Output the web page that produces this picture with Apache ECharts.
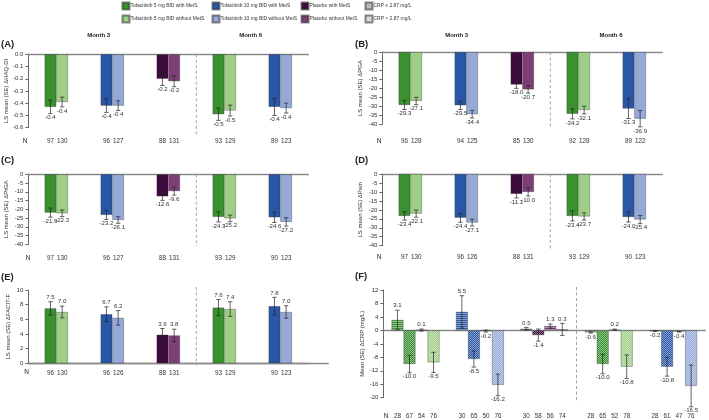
<!DOCTYPE html>
<html><head><meta charset="utf-8">
<script src="https://cdn.jsdelivr.net/npm/echarts@6/dist/echarts.min.js"></script>
<style>html,body{margin:0;padding:0;background:#fff}#c{width:709px;height:420px}</style>
</head><body><div id="c"></div>
<script>
const FONT = "'Liberation Sans', Arial, Helvetica, sans-serif";

// ---- data ----
const categories = ['Tofacitinib 5 mg BID, Month 3', 'Tofacitinib 10 mg BID, Month 3', 'Placebo, Month 3', 'Tofacitinib 5 mg BID, Month 6', 'Tofacitinib 10 mg BID, Month 6'];
const treatments = ['5mg', '10mg', 'pbo', '5mg', '10mg'];
const monthLabels = ['Month 3', 'Month 6'];

// (A) HAQ-DI
const haqWith = [-0.43, -0.42, -0.20, -0.49, -0.43];
const haqWithout = [-0.39, -0.42, -0.22, -0.46, -0.44];
const haqWithSE = [0.055, 0.055, 0.055, 0.05, 0.07];
const haqWithoutSE = [0.04, 0.04, 0.045, 0.045, 0.04];
const haqNWith = [97, 96, 88, 93, 89];
const haqNWithout = [130, 127, 131, 129, 123];
// (B) PGA
const pgaWith = [-29.3, -29.5, -18.0, -34.2, -31.3];
const pgaWithout = [-27.1, -34.4, -20.7, -32.1, -36.9];
const pgaWithSE = [2.5, 2.3, 2.1, 2.8, 5.5];
const pgaWithoutSE = [2.0, 2.1, 2.1, 2.1, 4.5];
const pgaNWith = [96, 94, 85, 92, 89];
const pgaNWithout = [128, 125, 130, 128, 122];
// (C) PtGA
const ptgaWith = [-21.9, -23.2, -12.6, -24.3, -24.6];
const ptgaWithout = [-22.3, -26.1, -9.6, -25.2, -27.2];
const ptgaWithSE = [2.6, 2.6, 2.3, 2.9, 2.9];
const ptgaWithoutSE = [1.9, 1.9, 2.3, 1.9, 2.4];
const ptgaNWith = [97, 96, 88, 93, 90];
const ptgaNWithout = [130, 127, 131, 129, 123];
// (D) Pain
const painWith = [-23.4, -24.4, -11.1, -23.4, -24.0];
const painWithout = [-22.1, -27.1, -10.0, -23.7, -25.4];
const painWithSE = [2.3, 2.5, 2.3, 2.8, 2.8];
const painWithoutSE = [2.0, 1.9, 2.3, 2.0, 2.3];
const painNWith = [97, 96, 88, 93, 90];
const painNWithout = [130, 126, 131, 129, 123];
// (E) FACIT-F
const facitWith = [7.5, 6.7, 3.9, 7.6, 7.8];
const facitWithout = [7.0, 6.2, 3.8, 7.4, 7.0];
const facitWithSE = [0.9, 1.0, 0.85, 1.1, 1.2];
const facitWithoutSE = [0.8, 1.0, 0.85, 1.0, 0.85];
const facitNWith = [96, 96, 88, 93, 90];
const facitNWithout = [130, 126, 131, 129, 123];
// (F) CRP
const crpWithLow = [3.1, 5.5, 0.5, -0.6, -0.2];
const crpWithHigh = [-10.0, -8.5, -1.4, -10.0, -10.8];
const crpWithoutLow = [0.1, -0.2, 1.3, 0.2, -0.4];
const crpWithoutHigh = [-9.5, -16.2, 0.3, -10.8, -16.5];
const crpWithLowSE = [2.9, 4.8, 0.4, 0.2, 0.1];
const crpWithHighSE = [2.6, 2.4, 1.8, 2.9, 2.8];
const crpWithoutLowSE = [0.3, 0.3, 0.6, 0.2, 0.1];
const crpWithoutHighSE = [3.0, 3.2, 1.8, 3.5, 6.2];
const crpNWithLow = [28, 30, 30, 28, 28];
const crpNWithHigh = [67, 65, 58, 65, 61];
const crpNWithoutLow = [54, 50, 56, 52, 47];
const crpNWithoutHigh = [76, 76, 74, 78, 76];

// ---- styling ----
const names = {
  '5mg': { with: 'Tofacitinib 5 mg BID with MetS', without: 'Tofacitinib 5 mg BID without MetS' },
  '10mg': { with: 'Tofacitinib 10 mg BID with MetS', without: 'Tofacitinib 10 mg BID without MetS' },
  'pbo': { with: 'Placebo with MetS', without: 'Placebo without MetS' }
};
const colors = {
  '5mg': { with: '#3a912f', without: '#9fce86' },
  '10mg': { with: '#2a57a5', without: '#95a9d8' },
  'pbo': { with: '#3d0b3e', without: '#7e3f77' }
};
const CRP_LOW = 'CRP \u2264 2.87 mg/L';
const CRP_HIGH = 'CRP > 2.87 mg/L';

function mix(hex, amt) {
  const n = parseInt(hex.slice(1), 16);
  const r = (n >> 16) & 255, g = (n >> 8) & 255, b = n & 255;
  const f = c => Math.round(c + (255 - c) * amt);
  return 'rgb(' + f(r) + ',' + f(g) + ',' + f(b) + ')';
}
function pattern(hex, kind) {
  const cv = document.createElement('canvas');
  cv.width = 2; cv.height = 2;
  const ctx = cv.getContext('2d');
  ctx.fillStyle = hex; ctx.fillRect(0, 0, 2, 2);
  ctx.fillStyle = mix(hex, 0.45);
  if (kind === 'low') { ctx.fillRect(0, 1, 2, 1); }
  else { ctx.fillRect(0, 0, 1, 1); ctx.fillRect(1, 1, 1, 1); }
  return { image: cv, repeat: 'repeat' };
}

const axisTextColor = '#333';
const grids = [], xAxes = [], yAxes = [], series = [];

function addPanel(cfg) {
  const gi = grids.length;
  grids.push({ left: cfg.left, top: cfg.top, width: cfg.width, height: cfg.height, containLabel: false });
  xAxes.push({
    type: 'category', gridIndex: gi, data: categories,
    axisLine: { show: true, onZero: true, lineStyle: { color: '#8a8a8a', width: 1.3 } },
    axisTick: { show: false }, axisLabel: { show: false }, splitLine: { show: false }
  });
  yAxes.push({
    type: 'value', gridIndex: gi, min: cfg.min, max: cfg.max, interval: cfg.interval,
    name: cfg.yName, nameLocation: 'middle', nameGap: cfg.nameGap,
    nameTextStyle: { fontSize: 6, color: axisTextColor, fontFamily: FONT, padding: cfg.namePad || 0 },
    axisLine: { show: true, lineStyle: { color: '#444', width: 0.8 } },
    axisTick: { show: true, length: 3, lineStyle: { color: '#444', width: 0.8 } },
    axisLabel: { fontSize: 6, color: axisTextColor, fontFamily: FONT, margin: 5,
      formatter: v => cfg.decimals ? v.toFixed(cfg.decimals) : String(Math.round(v)) },
    splitLine: { show: false }
  });
  const k = cfg.slots.length;
  const bw = cfg.barWidth;
  cfg.slots.forEach(s => s.bars.forEach(b => {
    series.push({
      type: 'bar', name: b.name, xAxisIndex: gi, yAxisIndex: gi,
      stack: s.stack ? 'g' + gi + s.stack : undefined,
      barWidth: bw, barGap: '0%', barCategoryGap: '0%',
      itemStyle: { color: b.color, borderColor: 'rgba(40,40,40,0.55)', borderWidth: 0.6 },
      emphasis: { disabled: true },
      data: b.data
    });
  }));
  // error bars, value labels, N row, dashed separator
  const rows = [];
  cfg.slots.forEach((s, si) => {
    s.values.forEach((v, ci) => rows.push([ci, si, v, s.se[ci], s.n[ci]]));
  });
  series.push({
    type: 'custom', xAxisIndex: gi, yAxisIndex: gi, clip: false, silent: true, z: 5,
    encode: { x: 0, y: 2 },
    data: rows,
    renderItem: function (params, api) {
      const ci = api.value(0), si = api.value(1), v = api.value(2), se = api.value(3), n = api.value(4);
      const c = api.coord([ci, v]);
      const x = c[0] + (si - (k - 1) / 2) * bw;
      const yHi = api.coord([ci, v + se])[1];
      const yLo = api.coord([ci, v - se])[1];
      const yBottom = api.coord([ci, cfg.min])[1];
      const yTop = api.coord([ci, cfg.max])[1];
      const ls = { stroke: '#222', lineWidth: 0.7 };
      const cap = 2.2;
      const children = [
        { type: 'line', shape: { x1: x, y1: yHi, x2: x, y2: yLo }, style: ls },
        { type: 'line', shape: { x1: x - cap, y1: yHi, x2: x + cap, y2: yHi }, style: ls },
        { type: 'line', shape: { x1: x - cap, y1: yLo, x2: x + cap, y2: yLo }, style: ls },
        { type: 'text', x: x, y: v >= 0 ? yHi - 1.5 : yLo + 1,
          style: { text: v.toFixed(1), fontSize: 6.1, fontFamily: FONT, fill: '#333',
            align: 'center', verticalAlign: v >= 0 ? 'bottom' : 'top' } },
        { type: 'text', x: x, y: yBottom + cfg.nOff,
          style: { text: String(n), fontSize: 6.3, fontFamily: FONT, fill: '#333',
            align: 'center', verticalAlign: 'middle' } }
      ];
      if (params.dataIndex === 0) {
        const xs = (api.coord([2, 0])[0] + api.coord([3, 0])[0]) / 2;
        children.push({ type: 'line', shape: { x1: xs, y1: yTop + cfg.dashTop, x2: xs, y2: yBottom + cfg.dashBottom },
          style: { stroke: '#9a9a9a', lineWidth: 0.9, lineDash: [3, 2.5] } });
      }
      return { type: 'group', children: children };
    }
  });
}

function twoSlotPanel(cfg, withV, withoutV, withSE, withoutSE, nWith, nWithout) {
  const mk = (vals, mets) => ['5mg', '10mg', 'pbo'].map(t => ({
    name: names[t][mets], color: colors[t][mets],
    data: vals.map((v, i) => treatments[i] === t ? v : '-')
  }));
  cfg.slots = [
    { stack: 'with', values: withV, se: withSE, n: nWith, bars: mk(withV, 'with') },
    { stack: 'without', values: withoutV, se: withoutSE, n: nWithout, bars: mk(withoutV, 'without') }
  ];
  cfg.barWidth = 11.7;
  addPanel(cfg);
}

twoSlotPanel({ left: 28.3, top: 54.3, width: 280, height: 73.4, min: -0.6, max: 0, interval: 0.1, decimals: 1,
  yName: 'LS mean (SE) \u0394HAQ-DI', nameGap: 17, nOff: 14, dashTop: 0, dashBottom: 7 },
  haqWith, haqWithout, haqWithSE, haqWithoutSE, haqNWith, haqNWithout);
twoSlotPanel({ left: 382.3, top: 52, width: 280, height: 72.3, min: -40, max: 0, interval: 5, decimals: 0,
  yName: 'LS mean (SE) \u0394PGA', nameGap: 19, nOff: 17, dashTop: 0, dashBottom: 3 },
  pgaWith, pgaWithout, pgaWithSE, pgaWithoutSE, pgaNWith, pgaNWithout);
twoSlotPanel({ left: 28.3, top: 174.3, width: 280, height: 70, min: -40, max: 0, interval: 5, decimals: 0,
  yName: 'LS mean (SE) \u0394PtGA', nameGap: 19, nOff: 14, dashTop: 0, dashBottom: 2 },
  ptgaWith, ptgaWithout, ptgaWithSE, ptgaWithoutSE, ptgaNWith, ptgaNWithout);
twoSlotPanel({ left: 382.3, top: 174, width: 280, height: 71.7, min: -40, max: 0, interval: 5, decimals: 0,
  yName: 'LS mean (SE) \u0394Pain', nameGap: 19, nOff: 12, dashTop: 0, dashBottom: 4 },
  painWith, painWithout, painWithSE, painWithoutSE, painNWith, painNWithout);
twoSlotPanel({ left: 28.3, top: 290, width: 280, height: 73.3, min: 0, max: 10, interval: 2, decimals: 0,
  yName: 'LS mean (SE) \u0394FACIT-F', nameGap: 17, nOff: 9.5, dashTop: -3, dashBottom: 2 },
  facitWith, facitWithout, facitWithSE, facitWithoutSE, facitNWith, facitNWithout);

// (F)
(function () {
  const mkData = (vals, mets, kind) => vals.map((v, i) => ({ value: v,
    itemStyle: { color: pattern(colors[treatments[i]][mets], kind) } }));
  addPanel({ left: 383.3, top: 290, width: 322, height: 107.7, min: -20, max: 12, interval: 4, decimals: 0,
    yName: 'Mean (SE) \u0394CRP (mg/L)', nameGap: 14, nOff: 19, dashTop: -3, dashBottom: 5, barWidth: 12,
    slots: [
      { values: crpWithLow, se: crpWithLowSE, n: crpNWithLow, bars: [{ name: CRP_LOW, color: pattern('#a9a9a9', 'low'), data: mkData(crpWithLow, 'with', 'low') }] },
      { values: crpWithHigh, se: crpWithHighSE, n: crpNWithHigh, bars: [{ name: CRP_HIGH, color: pattern('#cfcfcf', 'high'), data: mkData(crpWithHigh, 'with', 'high') }] },
      { values: crpWithoutLow, se: crpWithoutLowSE, n: crpNWithoutLow, bars: [{ name: CRP_LOW, color: pattern('#a9a9a9', 'low'), data: mkData(crpWithoutLow, 'without', 'low') }] },
      { values: crpWithoutHigh, se: crpWithoutHighSE, n: crpNWithoutHigh, bars: [{ name: CRP_HIGH, color: pattern('#cfcfcf', 'high'), data: mkData(crpWithoutHigh, 'without', 'high') }] }
    ] });
})();

// extended baseline for panel E
grids.push({ left: 28.3, top: 290, width: 300, height: 73.3 });
xAxes.push({ type: 'value', gridIndex: 6, min: 0, max: 1, axisLine: { show: true, lineStyle: { color: '#8a8a8a', width: 1.3 } },
  axisTick: { show: false }, axisLabel: { show: false }, splitLine: { show: false } });
yAxes.push({ type: 'value', gridIndex: 6, min: 0, max: 1, show: false });

const legendBase = { orient: 'vertical', top: 1.5, padding: 0, itemWidth: 7, itemHeight: 7, itemGap: 4, icon: 'rect',
  selectedMode: false, textStyle: { fontSize: 4.95, color: '#333', fontFamily: FONT, padding: [0, 0, 0, -4] } };
const legends = [
  Object.assign({}, legendBase, { left: 121.5, data: [names['5mg'].with, names['5mg'].without] }),
  Object.assign({}, legendBase, { left: 211.5, data: [names['10mg'].with, names['10mg'].without] }),
  Object.assign({}, legendBase, { left: 300.5, data: [names.pbo.with, names.pbo.without] }),
  Object.assign({}, legendBase, { left: 364.5, data: [CRP_LOW, CRP_HIGH] })
];

const t = (text, x, y, size, bold, align) => ({ type: 'text', x: x, y: y,
  style: { text: text, fontSize: size, fontWeight: bold ? 'bold' : 'normal', fontFamily: FONT, fill: '#222',
    align: align || 'left', verticalAlign: 'middle' } });
const graphics = [
  t('(A)', 1, 44.5, 9.5, true), t('(B)', 355, 44.5, 9.5, true),
  t('(C)', 1, 160, 9.5, true), t('(D)', 355, 160, 9.5, true),
  t('(E)', 1, 277, 9.5, true), t('(F)', 355, 276, 9.5, true),
  t(monthLabels[0], 98.7, 35, 6, true, 'center'), t(monthLabels[1], 250.7, 35, 6, true, 'center'),
  t(monthLabels[0], 456.7, 35, 6, true, 'center'), t(monthLabels[1], 611, 35, 6, true, 'center'),
  t('N', 25, 141.7, 6.5, false, 'center'), t('N', 379, 141.7, 6.5, false, 'center'),
  t('N', 28, 258.3, 6.5, false, 'center'), t('N', 379, 257.7, 6.5, false, 'center'),
  t('N', 26.5, 372.7, 6.5, false, 'center'), t('N', 386, 416.7, 6.5, false, 'center')
];

const chart = echarts.init(document.getElementById('c'), null, { renderer: 'canvas' });
chart.setOption({
  animation: false,
  backgroundColor: '#fff',
  textStyle: { fontFamily: FONT },
  legend: legends,
  grid: grids, xAxis: xAxes, yAxis: yAxes,
  series: series,
  graphic: graphics
});
</script></body></html>
